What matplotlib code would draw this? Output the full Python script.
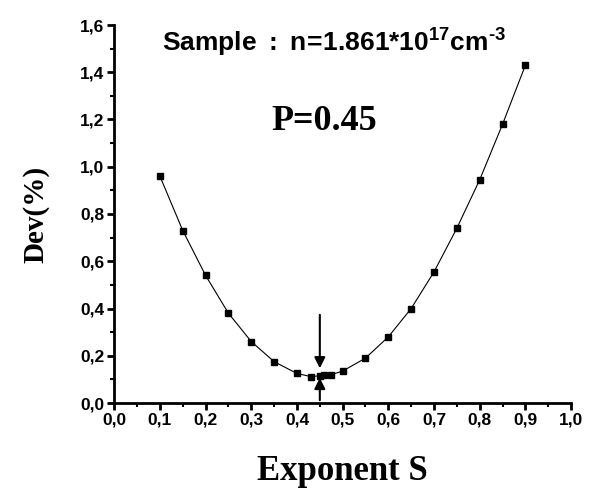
import matplotlib
import matplotlib.pyplot as plt
import numpy as np
from matplotlib.ticker import MultipleLocator, FuncFormatter

matplotlib.use('Agg')

plt.rcParams['mathtext.fontset'] = 'custom'
plt.rcParams['mathtext.bf'] = 'Liberation Sans:bold'
plt.rcParams['mathtext.rm'] = 'Liberation Sans:bold'
plt.rcParams['mathtext.it'] = 'Liberation Sans:bold'

exponent = [0.10, 0.15, 0.20, 0.25, 0.30, 0.35, 0.40, 0.43, 0.45, 0.46, 0.475,
            0.50, 0.55, 0.60, 0.65, 0.70, 0.75, 0.80, 0.85, 0.90]
dev = [0.96, 0.73, 0.54, 0.38, 0.26, 0.175, 0.125, 0.112, 0.115, 0.118, 0.12,
       0.135, 0.19, 0.28, 0.40, 0.555, 0.74, 0.945, 1.18, 1.43]

p_best = 0.45

fig = plt.figure(figsize=(5.98, 5.0), dpi=100)
ax = fig.add_axes([0.191, 0.194, 0.764, 0.756])

ax.plot(exponent, dev, '-', color='black', linewidth=0.8,
        marker='s', markersize=4.5, markerfacecolor='black', markeredgecolor='black')

# arrows pointing at the minimum
ax.annotate('', xy=(p_best, 0.135), xytext=(p_best, 0.385),
            arrowprops=dict(arrowstyle='-|>', color='black', lw=1.5, mutation_scale=16))
ax.annotate('', xy=(p_best, 0.118), xytext=(p_best, 0.0),
            arrowprops=dict(arrowstyle='-|>', color='black', lw=1.5, mutation_scale=16))

ax.set_xlim(0, 1.0)
ax.set_ylim(0, 1.6)
ax.xaxis.set_major_locator(MultipleLocator(0.1))
ax.xaxis.set_minor_locator(MultipleLocator(0.05))
ax.yaxis.set_major_locator(MultipleLocator(0.2))
ax.yaxis.set_minor_locator(MultipleLocator(0.1))

comma = FuncFormatter(lambda v, pos: f'{v:.1f}'.replace('.', ','))
ax.xaxis.set_major_formatter(comma)
ax.yaxis.set_major_formatter(comma)

for side in ['top', 'right']:
    ax.spines[side].set_visible(False)
for side in ['left', 'bottom']:
    ax.spines[side].set_linewidth(2.0)

ax.tick_params(which='major', direction='out', length=5, width=2, pad=2)
ax.tick_params(which='minor', direction='out', length=3, width=1.5)
for lab in ax.get_xticklabels() + ax.get_yticklabels():
    lab.set_fontfamily('Liberation Sans')
    lab.set_fontweight('bold')
    lab.set_fontsize(12.5)

ax.set_xlabel('Exponent S', fontfamily='Liberation Serif', fontweight='bold',
              fontsize=25, labelpad=20)
ax.set_ylabel('Dev(%)', fontfamily='Liberation Serif', fontweight='bold',
              fontsize=21, labelpad=22)

ax.text(0.46, 1.19, 'P=0.45', fontfamily='Liberation Serif', fontweight='bold',
        fontsize=26, ha='center', va='center')
title = r'$\mathbf{Sample\ :\ n\!=\!1.861{*}10^{17}cm^{' + '\u2010' + r'3}}$'
ax.text(0.482, 1.525, title, fontsize=19, ha='center', va='center')

fig.savefig('out.png', dpi=100)
